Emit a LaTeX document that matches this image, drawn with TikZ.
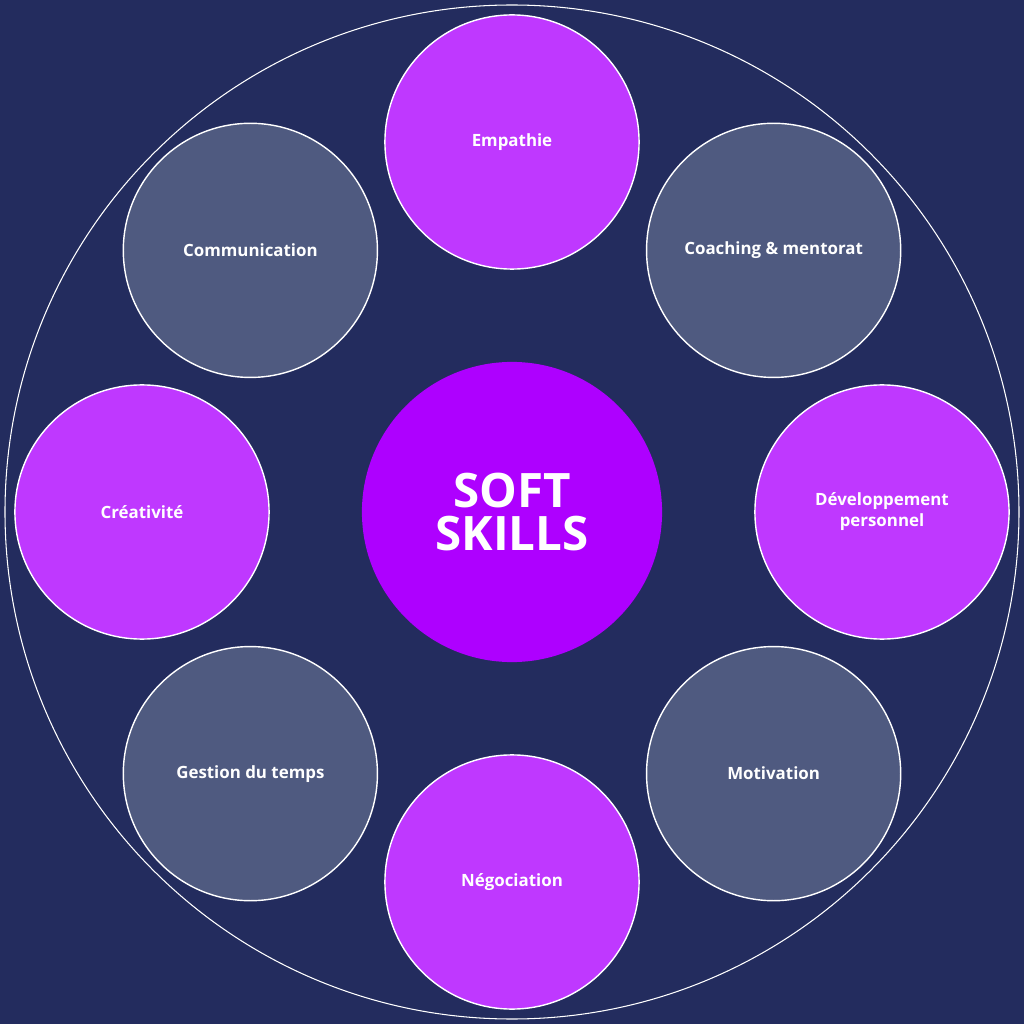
\documentclass[tikz,border=0pt]{standalone}
\usepackage{fontspec}
\setmainfont{Open Sans}
\definecolor{bgblue}{HTML}{232C5E}
\definecolor{skillpurple}{HTML}{BF38FF}
\definecolor{skillgrey}{HTML}{4F5A80}
\definecolor{corepurple}{HTML}{AE00FF}
\begin{document}
\begin{tikzpicture}[
	x=0.01cm, y=0.01cm,
	skill/.style = {
		circle, draw=white, line width=0.4pt, minimum size=2.54cm,
		align=center, text=white, font=\fontsize{4.8}{6}\selectfont\bfseries,
		inner sep=0pt},
	core/.style = {
		circle, fill=corepurple, minimum size=3cm, align=center,
		text=white, font=\fontsize{13.5}{14}\selectfont\bfseries}
]
\fill[bgblue] (-512,-512) rectangle (512,512);
\useasboundingbox (-512,-512) rectangle (512,512);
\draw[white, line width=0.3pt] (0,0) circle (507);

\node (core) [core] at (0,0) {SOFT\\[-2pt]SKILLS};

\foreach \ang/\col/\name/\txt in {
	90/skillpurple/empathie/Empathie,
	45/skillgrey/coaching/Coaching \& mentorat,
	0/skillpurple/dev/Développement\\personnel,
	-45/skillgrey/motivation/Motivation,
	-90/skillpurple/nego/Négociation,
	-135/skillgrey/gestion/Gestion du temps,
	180/skillpurple/creat/Créativité,
	135/skillgrey/comm/Communication}
	\node (\name) [skill, fill=\col] at (\ang:370) {\txt};
\end{tikzpicture}
\end{document}
